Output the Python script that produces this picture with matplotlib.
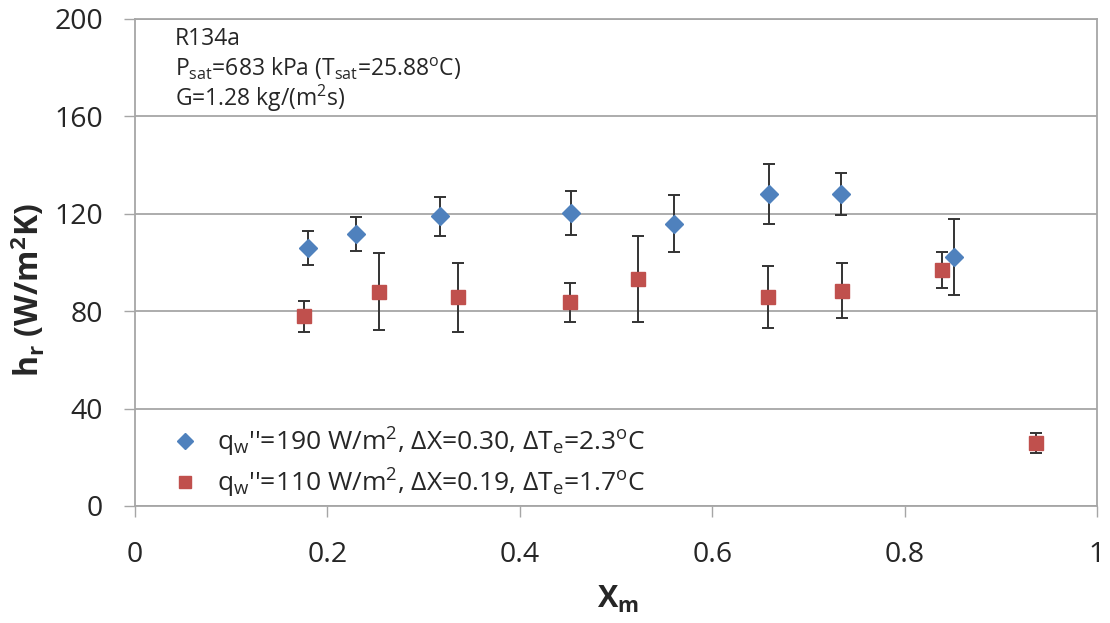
import matplotlib
matplotlib.use("Agg")
import matplotlib.pyplot as plt
from matplotlib.lines import Line2D

# ---- data ----
x_q190 = [0.180, 0.230, 0.317, 0.453, 0.560, 0.659, 0.734, 0.851]
h_q190 = [106.0, 111.7, 118.9, 120.3, 115.9, 128.0, 128.0, 102.2]
err_q190 = [7.0, 7.0, 8.0, 9.0, 11.6, 12.4, 8.5, 15.6]

x_q110 = [0.176, 0.254, 0.336, 0.452, 0.523, 0.658, 0.735, 0.839, 0.937]
h_q110 = [77.9, 88.0, 85.7, 83.6, 93.2, 85.9, 88.4, 97.0, 25.8]
err_q110 = [6.4, 15.7, 14.2, 8.0, 17.8, 12.7, 11.2, 7.4, 4.2]

label_q190 = "q$_\\mathregular{w}$''=190 W/m$^\\mathregular{2}$, \u0394X=0.30, \u0394T$_\\mathregular{e}$=2.3$^\\mathregular{o}$C"
label_q110 = "q$_\\mathregular{w}$''=110 W/m$^\\mathregular{2}$, \u0394X=0.19, \u0394T$_\\mathregular{e}$=1.7$^\\mathregular{o}$C"

annot_lines = ["R134a",
               "P$_\\mathregular{sat}$=683 kPa (T$_\\mathregular{sat}$=25.88$^\\mathregular{o}$C)",
               "G=1.28 kg/(m$^\\mathregular{2}$s)"]

xticks = [0, 0.2, 0.4, 0.6, 0.8, 1]
xticklabels = ["0", "0.2", "0.4", "0.6", "0.8", "1"]
yticks = [0, 40, 80, 120, 160, 200]

# ---- style ----
plt.rcParams['font.family'] = ['Open Sans', 'DejaVu Sans']
plt.rcParams['mathtext.fontset'] = 'custom'
plt.rcParams['mathtext.rm'] = 'Open Sans'
plt.rcParams['mathtext.it'] = 'Open Sans'
plt.rcParams['mathtext.bf'] = 'Open Sans:bold'

BLUE = '#4F81BD'
RED = '#C0504D'
GRID = '#A6A6A6'
TEXT = '#262626'

W, H = 1110, 623
fig = plt.figure(figsize=(W / 100, H / 100), dpi=100)
ax = fig.add_axes([135 / W, 1 - 506 / H, (1097 - 135) / W, (506 - 18.7) / H])

ax.set_xlim(0, 1)
ax.set_ylim(0, 200)

ax.yaxis.grid(True, color=GRID, lw=1.3)
ax.set_axisbelow(True)
for s in ax.spines.values():
    s.set_color(GRID)
    s.set_linewidth(1.3)

ax.set_xticks(xticks)
ax.set_xticklabels(xticklabels)
ax.set_yticks(yticks)
ax.tick_params(axis='both', direction='out', length=8, width=1.0, color=GRID,
               labelsize=20.5, labelcolor=TEXT)
ax.tick_params(axis='x', pad=17)
ax.tick_params(axis='y', pad=15)

# error bars
ax.errorbar(x_q190, h_q190, yerr=err_q190, fmt='none', ecolor='#333333',
            elinewidth=1.4, capsize=4, capthick=1.4, zorder=2)
ax.errorbar(x_q110, h_q110, yerr=err_q110, fmt='none', ecolor='#333333',
            elinewidth=1.4, capsize=4, capthick=1.4, zorder=2)
# markers
ax.plot(x_q190, h_q190, linestyle='none', marker='D', ms=9.5, color=BLUE,
        mec=BLUE, zorder=3)
ax.plot(x_q110, h_q110, linestyle='none', marker='s', ms=10.5, color=RED,
        mec=RED, zorder=3)

handles = [Line2D([], [], linestyle='none', marker='D', ms=8, color=BLUE, mec=BLUE),
           Line2D([], [], linestyle='none', marker='s', ms=9, color=RED, mec=RED)]
leg = ax.legend(handles, [label_q190, label_q110], loc='lower left',
                bbox_to_anchor=(0.025, -0.02), frameon=False, fontsize=19,
                handlelength=0.8, handletextpad=0.8, labelspacing=0.3,
                borderaxespad=0.2)
for t in leg.get_texts():
    t.set_color(TEXT)

# annotation (baselines in pixels from top of figure)
base_px = [45, 76, 106]
for line, yb in zip(annot_lines, base_px):
    fig.text(175 / W, 1 - yb / H, line, fontsize=16.5,
             va='baseline', ha='left', color=TEXT)

# axis labels
fig.text(618 / W, 1 - 599 / H, "X$_\\mathregular{m}$", fontsize=22,
         fontweight='bold', ha='center', va='center', color=TEXT)
fig.text(29 / W, 1 - 290 / H, "h$_\\mathregular{r}$ (W/m$^\\mathregular{2}$K)",
         fontsize=23, fontweight='bold', rotation=90, ha='center',
         va='center', color=TEXT)

fig.savefig("out.png", dpi=100)
